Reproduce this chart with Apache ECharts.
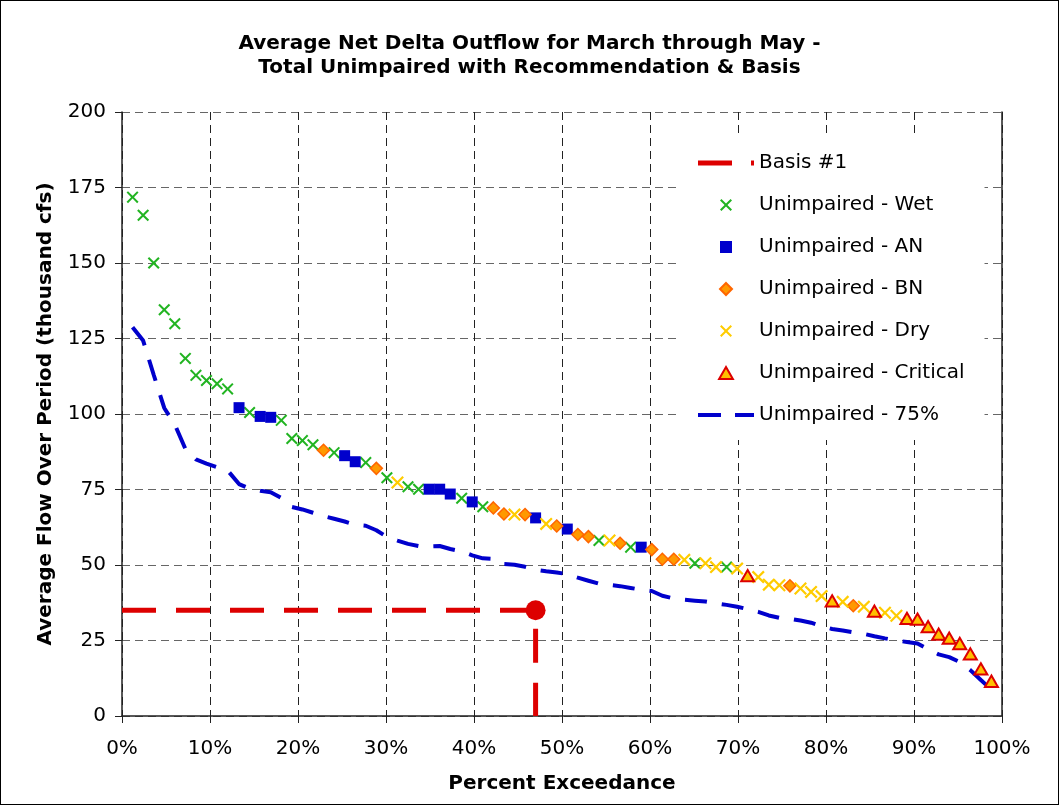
<!DOCTYPE html>
<html>
<head>
<meta charset="utf-8">
<script src="https://cdn.jsdelivr.net/npm/echarts@6/dist/echarts.min.js"></script>
<style>
html,body{margin:0;padding:0;background:#fff;}
#chart{width:1059px;height:805px;box-sizing:border-box;border:1px solid #000;}
</style>
</head>
<body>
<div id="chart"></div>
<script>
// Percent exceedance of each ranked year (x)
const pctExceed = [1.2,2.4,3.6,4.8,6.0,7.2,8.4,9.6,10.8,12.0,13.3,14.5,15.7,16.9,18.1,19.3,20.5,21.7,22.9,24.1,25.3,26.5,27.7,28.9,30.1,31.3,32.5,33.7,34.9,36.1,37.3,38.6,39.8,41.0,42.2,43.4,44.6,45.8,47.0,48.2,49.4,50.6,51.8,53.0,54.2,55.4,56.6,57.8,59.0,60.2,61.4,62.7,63.9,65.1,66.3,67.5,68.7,69.9,71.1,72.3,73.5,74.7,75.9,77.1,78.3,79.5,80.7,81.9,83.1,84.3,85.5,86.7,88.0,89.2,90.4,91.6,92.8,94.0,95.2,96.4,97.6,98.8];
// Unimpaired average flow (thousand cfs)
const unimpairedFlow = [171.8,165.8,150.0,134.5,129.9,118.4,112.8,111.1,110.0,108.3,102.1,100.5,99.2,98.9,97.9,91.9,91.2,89.8,88.0,87.2,86.2,84.2,83.9,82.0,78.9,77.3,75.9,75.1,75.1,75.1,73.5,72.1,70.9,69.3,68.9,66.9,66.7,66.7,65.6,63.6,62.9,61.9,60.1,59.4,58.1,58.1,57.2,55.9,55.9,55.1,51.9,51.9,51.7,50.6,50.6,49.3,49.3,48.8,46.5,46.0,43.5,43.3,43.1,42.2,41.1,39.7,38.1,37.8,36.5,36.2,34.7,34.2,33.2,32.3,32.1,29.6,27.1,25.8,24.0,20.6,15.6,11.5];
// Year type of each ranked year
const yearType = ['W','W','W','W','W','W','W','W','W','W','AN','W','AN','AN','W','W','W','W','BN','W','AN','AN','W','BN','W','D','W','W','AN','AN','AN','W','AN','W','BN','BN','D','BN','AN','D','BN','AN','BN','BN','W','D','BN','W','AN','BN','BN','BN','D','W','D','D','W','D','C','D','D','D','BN','D','D','D','C','D','BN','D','C','D','D','C','C','C','C','C','C','C','C','C'];
// Unimpaired - 75% curve
const unimpaired75 = [128.7,124.3,113.0,102.0,96.5,88.5,85.0,83.6,82.4,81.3,76.8,75.3,74.6,74.1,72.2,69.2,68.4,67.3,66.2,65.3,64.4,63.3,63.0,61.5,59.3,58.1,57.0,56.3,56.2,56.3,55.3,54.5,53.2,52.2,52.0,50.3,50.1,49.4,48.4,47.9,47.5,47.0,45.8,44.8,43.8,43.4,43.0,42.4,41.8,41.4,39.8,38.9,38.5,38.2,37.9,37.3,36.8,36.2,35.4,34.5,33.3,32.5,32.2,31.6,30.9,29.7,28.8,28.3,27.7,27.2,26.4,25.7,25.0,24.5,24.0,22.1,20.4,19.5,17.9,15.2,11.9,8.7];
// Basis #1
const basisPct = 47.0;
const basisFlow = 35;

const FONT = 'DejaVu Sans';
const SYM = {
  x: 'path://M0,1.2L1.2,0L5,3.8L8.8,0L10,1.2L6.2,5L10,8.8L8.8,10L5,6.2L1.2,10L0,8.8L3.8,5Z',
  square: 'path://M0,0H10V10H0Z',
  diamond: 'path://M5,0L10,5L5,10L0,5Z',
  triangle: 'path://M5,0L10,8.7L0,8.7Z',
  basisIcon: 'path://M0,0H34V5H0ZM53,0H56V5H53Z',
  q75Icon: 'path://M0,0H23V4H0ZM37,0H56V4H37Z'
};

function pick(t){
  const out = [];
  for (let i = 0; i < pctExceed.length; i++) if (yearType[i] === t) out.push([pctExceed[i], unimpairedFlow[i]]);
  return out;
}

const chart = echarts.init(document.getElementById('chart'), null, {renderer:'canvas'});
const option = {
  backgroundColor:'#fff',
  animation:false,
  textStyle:{fontFamily:FONT,color:'#000'},
  title:{
    text:'Average Net Delta Outflow for March through May -\nTotal Unimpaired with Recommendation & Basis',
    left:'center', top:26,
    textStyle:{fontFamily:FONT,fontSize:20,fontWeight:'bold',color:'#000',lineHeight:24}
  },
  grid:{left:121,right:56,top:111,bottom:88},
  legend:{
    orient:'vertical', left:676, top:137,
    backgroundColor:'#fff', padding:[15,20,15,21],
    itemWidth:56, itemHeight:12, itemGap:22,
    symbolKeepAspect:true,
    textStyle:{fontFamily:FONT,fontSize:20,color:'#000'},
    data:[
      {name:'Basis #1', icon:SYM.basisIcon, itemStyle:{color:'#DD0000',borderWidth:0}},
      {name:'Unimpaired - Wet', icon:SYM.x},
      {name:'Unimpaired - AN', icon:SYM.square},
      {name:'Unimpaired - BN', icon:SYM.diamond},
      {name:'Unimpaired - Dry', icon:SYM.x},
      {name:'Unimpaired - Critical', icon:SYM.triangle},
      {name:'Unimpaired - 75%', icon:SYM.q75Icon, itemStyle:{color:'#0000CC',borderWidth:0}}
    ]
  },
  xAxis:{
    type:'value', min:0, max:100, interval:10,
    name:'Percent Exceedance', nameLocation:'middle', nameGap:58,
    nameTextStyle:{fontFamily:FONT,fontSize:20,fontWeight:'bold',color:'#000'},
    axisLine:{show:true,onZero:false,lineStyle:{color:'#222',width:1.5}},
    axisTick:{show:true,length:7,lineStyle:{color:'#222'}},
    axisLabel:{margin:23,fontFamily:FONT,fontSize:20,color:'#000',formatter:'{value}%'},
    splitLine:{show:true,lineStyle:{color:'#222',type:[8,5],width:1}}
  },
  yAxis:[{
    type:'value', min:0, max:200, interval:25,
    name:'Average Flow Over Period (thousand cfs)', nameLocation:'middle', nameGap:66,
    nameTextStyle:{fontFamily:FONT,fontSize:20,fontWeight:'bold',color:'#000'},
    axisLine:{show:true,onZero:false,lineStyle:{color:'#222',width:1.5}},
    axisTick:{show:true,length:7,lineStyle:{color:'#222'}},
    axisLabel:{margin:16,fontFamily:FONT,fontSize:20,color:'#000'},
    splitLine:{show:true,lineStyle:{color:'#666',type:[8,5],width:1}}
  },{
    type:'value', min:0, max:200, interval:25, position:'right',
    axisLine:{show:true,onZero:false,lineStyle:{color:'#222',width:1.5}},
    axisTick:{show:false}, axisLabel:{show:false}, splitLine:{show:false}
  }],
  series:[
    {
      name:'Unimpaired - 75%', type:'line', symbol:'none', z:2,
      data:pctExceed.map((p,i)=>[p,unimpaired75[i]]),
      lineStyle:{color:'#0000CC',width:4,type:[22,15]},
      itemStyle:{color:'#0000CC'}
    },
    {
      name:'Basis #1', type:'line', symbol:'none', z:3,
      data:[[0,basisFlow],{value:[basisPct,basisFlow],symbol:'circle',symbolSize:20},[basisPct,0]],
      lineStyle:{color:'#DD0000',width:5,type:[34,20]},
      itemStyle:{color:'#DD0000'}
    },
    {
      name:'Unimpaired - Wet', type:'scatter', data:pick('W'), z:4,
      symbol:SYM.x, symbolSize:12, symbolKeepAspect:true,
      itemStyle:{color:'#22B422',opacity:1}
    },
    {
      name:'Unimpaired - AN', type:'scatter', data:pick('AN'), z:4,
      symbol:SYM.square, symbolSize:11, symbolKeepAspect:true,
      itemStyle:{color:'#0000CC',opacity:1}
    },
    {
      name:'Unimpaired - BN', type:'scatter', data:pick('BN'), z:4,
      symbol:SYM.diamond, symbolSize:12, symbolKeepAspect:true,
      itemStyle:{color:'#FF9900',borderColor:'#FF6600',borderWidth:1.5,opacity:1}
    },
    {
      name:'Unimpaired - Dry', type:'scatter', data:pick('D'), z:4,
      symbol:SYM.x, symbolSize:13, symbolKeepAspect:true,
      itemStyle:{color:'#FFCC00',opacity:1}
    },
    {
      name:'Unimpaired - Critical', type:'scatter', data:pick('C'), z:4,
      symbol:SYM.triangle, symbolSize:13, symbolKeepAspect:true,
      itemStyle:{color:'#FFC000',borderColor:'#DD0000',borderWidth:2,opacity:1}
    }
  ]
};
chart.setOption(option);
</script>
</body>
</html>
